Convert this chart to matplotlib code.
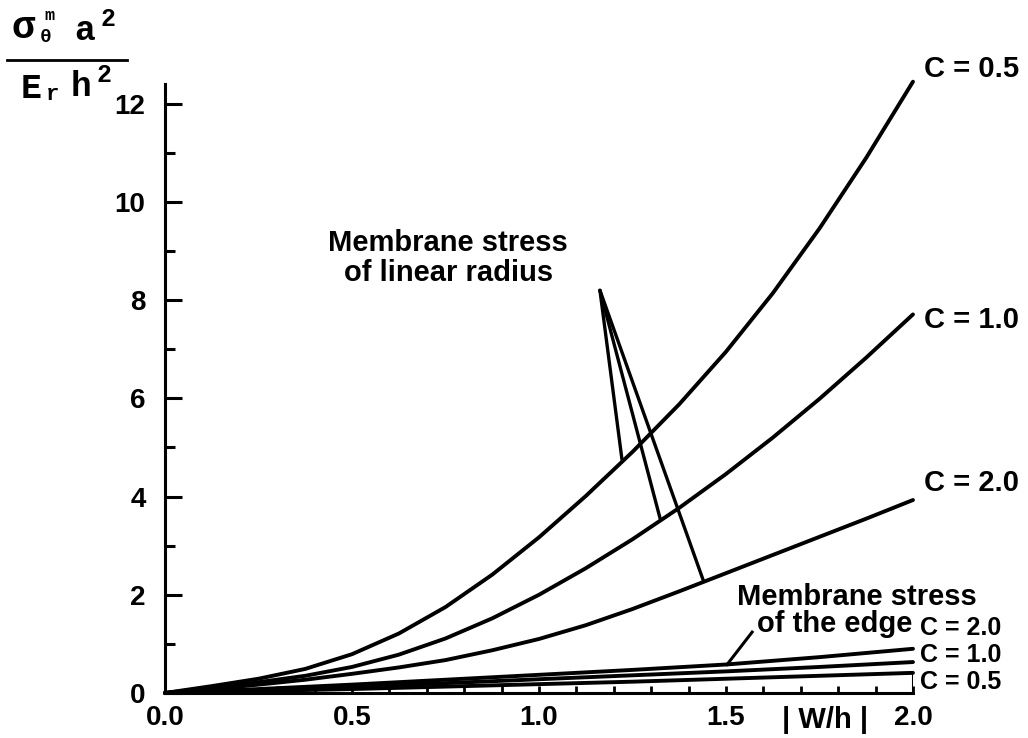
import matplotlib
matplotlib.use("Agg")
import matplotlib.pyplot as plt
from matplotlib.lines import Line2D
from matplotlib.ticker import MultipleLocator

# |W/h| sample points (linear radius curves)
w_h = [0.0, 0.125, 0.25, 0.375, 0.5, 0.625, 0.75, 0.875, 1.0,
       1.125, 1.25, 1.375, 1.5, 1.625, 1.75, 1.875, 2.0]

# membrane stress of linear radius
radius_c05 = [0.0, 0.14, 0.29, 0.49, 0.79, 1.21, 1.75, 2.41, 3.17,
              4.01, 4.91, 5.88, 6.95, 8.14, 9.46, 10.90, 12.45]
radius_c10 = [0.0, 0.11, 0.22, 0.35, 0.53, 0.78, 1.11, 1.52, 2.00,
              2.54, 3.13, 3.77, 4.46, 5.20, 5.99, 6.83, 7.71]
radius_c20 = [0.0, 0.08, 0.17, 0.27, 0.39, 0.52, 0.67, 0.87, 1.10,
              1.38, 1.71, 2.07, 2.44, 2.81, 3.18, 3.55, 3.93]

# membrane stress of the edge
w_h_edge = [0.0, 0.25, 0.5, 0.75, 1.0, 1.25, 1.5, 1.75, 2.0]
edge_c20 = [0.0, 0.08, 0.17, 0.27, 0.37, 0.47, 0.58, 0.73, 0.90]
edge_c10 = [0.0, 0.06, 0.13, 0.20, 0.28, 0.36, 0.44, 0.53, 0.63]
edge_c05 = [0.0, 0.04, 0.08, 0.13, 0.18, 0.23, 0.29, 0.35, 0.41]

radius_labels = ["C = 0.5", "C = 1.0", "C = 2.0"]
radius_label_y = [12.70, 7.60, 4.28]
edge_labels = ["C = 2.0", "C = 1.0", "C = 0.5"]
edge_label_y = [1.33, 0.78, 0.23]

xtick_vals = [0.0, 0.5, 1.0, 1.5, 2.0]
xtick_text = ["0.0", "0.5", "1.0", "1.5", "2.0"]
ytick_vals = [0, 2, 4, 6, 8, 10, 12]

# leader lines: apex, then the three ends on the curves
leader_apex = (1.163, 8.2)
leader_ends = [(1.222, 4.75), (1.324, 3.55), (1.439, 2.30)]
edge_leader = [(1.57, 1.24), (1.503, 0.58)]

FONT = "Liberation Sans"
MONO = "Liberation Mono"
LW = 2.8


def setupAxes(fig):
    ax = fig.add_axes([0.1605, 0.061, 0.7276, 0.8516])
    ax.set_xlim(0, 2.0)
    ax.set_ylim(0, 12.8)

    ax.spines["top"].set_visible(False)
    ax.spines["right"].set_visible(False)
    ax.spines["left"].set_linewidth(2.2)
    ax.spines["bottom"].set_linewidth(2.2)
    ax.spines["left"].set_bounds(0, 12.4)

    ax.set_xticks(xtick_vals)
    ax.set_xticklabels(xtick_text)
    ax.xaxis.set_minor_locator(MultipleLocator(0.1))
    ax.set_yticks(ytick_vals)
    ax.yaxis.set_minor_locator(MultipleLocator(1))

    ax.tick_params(axis="x", which="both", direction="in", length=5, width=2, pad=9)
    ax.tick_params(axis="y", which="major", direction="in", length=12, width=2.2, pad=14)
    ax.tick_params(axis="y", which="minor", direction="in", length=7, width=2.2)

    for lab in ax.get_xticklabels() + ax.get_yticklabels():
        lab.set_fontfamily(FONT)
        lab.set_fontweight("bold")
        lab.set_fontsize(20)

    return ax


def drawCurves(ax):
    for ys in [radius_c05, radius_c10, radius_c20]:
        ax.plot(w_h, ys, color="black", lw=LW, clip_on=False, solid_capstyle="round")
    for ys in [edge_c20, edge_c10, edge_c05]:
        ax.plot(w_h_edge, ys, color="black", lw=LW, clip_on=False, solid_capstyle="round")

    # closing line at the right end of the edge curves
    ax.vlines(w_h_edge[-1], 0, edge_c05[-1], color="black", lw=2.2)

    # leaders
    for end in leader_ends:
        ax.plot([leader_apex[0], end[0]], [leader_apex[1], end[1]], color="black", lw=2.4,
                solid_capstyle="round")
    ax.plot([p[0] for p in edge_leader], [p[1] for p in edge_leader], color="black", lw=2.2)


def drawText(fig, ax):
    txt = dict(fontfamily=FONT, fontweight="bold", fontsize=21, color="black", clip_on=False)

    for lab, y in zip(radius_labels, radius_label_y):
        ax.text(2.03, y, lab, ha="left", va="center", **txt)
    small = dict(txt, fontsize=18)
    for lab, y in zip(edge_labels, edge_label_y):
        ax.text(2.02, y, lab, ha="left", va="center", **small)

    ax.text(0.757, 8.86, "Membrane stress\nof linear radius", ha="center", va="center",
            linespacing=1.13, **txt)
    ax.text(1.85, 1.96, "Membrane stress", ha="center", va="center", **txt)
    ax.text(1.79, 1.40, "of the edge", ha="center", va="center",
            bbox=dict(facecolor="white", edgecolor="none", pad=0), **txt)

    ax.text(1.765, -0.55, "| W/h |", ha="center", va="center", **txt)

    # y label as a fraction in the top left corner
    mono = dict(fontfamily=MONO, fontweight="bold", color="black", ha="center", va="center")
    W, H = 1028.0, 738.0
    fig.text(23 / W, 1 - 28 / H, "σ", fontsize=28, **mono)
    fig.text(49 / W, 1 - 15 / H, "m", fontsize=12, **mono)
    fig.text(46 / W, 1 - 37 / H, "θ", fontsize=14, **mono)
    fig.text(85 / W, 1 - 31 / H, "a", fontsize=25, **mono)
    fig.text(108 / W, 1 - 19 / H, "2", fontsize=18, **mono)
    fig.text(31 / W, 1 - 88 / H, "E", fontsize=25, **mono)
    fig.text(53 / W, 1 - 95 / H, "r", fontsize=16, **mono)
    fig.text(81 / W, 1 - 86 / H, "h", fontsize=25, **mono)
    fig.text(104 / W, 1 - 75 / H, "2", fontsize=18, **mono)
    fig.add_artist(Line2D([7 / W, 127 / W], [1 - 60 / H, 1 - 60 / H], color="black", lw=2))


def main():
    fig = plt.figure(figsize=(10.28, 7.38), dpi=100)
    ax = setupAxes(fig)
    drawCurves(ax)
    drawText(fig, ax)
    fig.savefig("out.png", dpi=100, facecolor="white")


if __name__ == "__main__":
    main()
